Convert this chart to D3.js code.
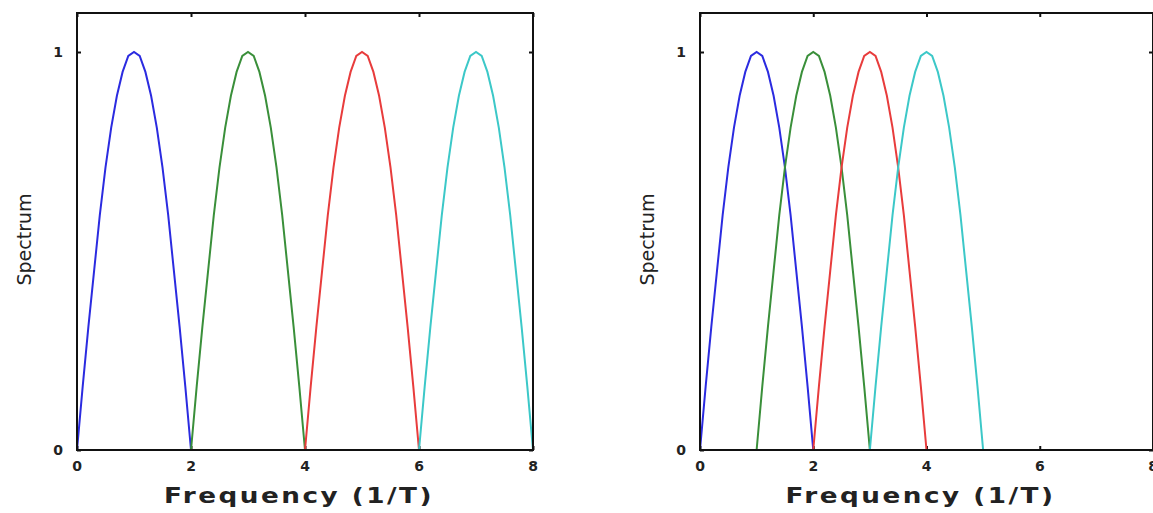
<!DOCTYPE html>
<html>
<head>
<meta charset="utf-8">
<script src="https://cdn.jsdelivr.net/npm/d3@7"></script>
<style>
  body { margin: 0; background: #fff; }
  svg text { font-family: 'DejaVu Sans', sans-serif; }
</style>
</head>
<body>
<svg id="main"></svg>
<script>
// one lobe of the spectrum, read across its width of 2 (1/T) in steps of 0.1
const lobeX = [0, 0.1, 0.2, 0.3, 0.4, 0.5, 0.6, 0.7, 0.8, 0.9, 1.0,
  1.1, 1.2, 1.3, 1.4, 1.5, 1.6, 1.7, 1.8, 1.9, 2.0];
const lobeY = [0, 0.16, 0.31, 0.45, 0.59, 0.71, 0.81, 0.89, 0.95, 0.99, 1.0,
  0.99, 0.95, 0.89, 0.81, 0.71, 0.59, 0.45, 0.31, 0.16, 0];
const colors = ['#2b2be0', '#3a8f3a', '#e83c3c', '#3cc8c8'];
const startsLeft = [0, 2, 4, 6];    // lobes side by side
const startsRight = [0, 1, 2, 3];   // overlapping lobes
const xTicks = [0, 2, 4, 6, 8];
const yTicks = [0, 1];

let width = 1153,
  height = 513;

svg = d3.select('#main')
  .attr('width', width)
  .attr('height', height);

drawPanel = (x0, x1, starts, name) => {
  let x = d3.scaleLinear()
    .domain([0, 8])
    .range([x0, x1]);

  let y = d3.scaleLinear()
    .domain([0, 1.098])
    .range([450, 13]);

  let g = svg.append('g').attr('class', name);

  // inward ticks on all four sides
  g.append('g')
    .call(d3.axisTop(x).tickValues(xTicks).tickSize(4).tickFormat(''))
    .attr('transform', `translate(0, ${y(0)})`);
  g.append('g')
    .call(d3.axisBottom(x).tickValues(xTicks).tickSize(4).tickFormat(''))
    .attr('transform', `translate(0, ${y.range()[1]})`);
  g.append('g')
    .call(d3.axisRight(y).tickValues(yTicks).tickSize(4).tickFormat(''))
    .attr('transform', `translate(${x(0)}, 0)`);
  g.append('g')
    .call(d3.axisLeft(y).tickValues(yTicks).tickSize(4).tickFormat(''))
    .attr('transform', `translate(${x(8)}, 0)`);
  g.selectAll('.domain').remove();
  g.selectAll('.tick line').attr('stroke', '#111').attr('stroke-width', 2);

  g.selectAll('.curve')
    .data(starts)
    .enter()
    .append('path')
    .attr('class', 'curve')
    .attr('fill', 'none')
    .attr('stroke', (d, i) => colors[i])
    .attr('stroke-width', 2)
    .attr('d', s => d3.line()
      .x((d, j) => x(s + lobeX[j]))
      .y(d => y(d))(lobeY));

  g.append('rect')
    .attr('x', x(0))
    .attr('y', y.range()[1])
    .attr('width', x(8) - x(0))
    .attr('height', y(0) - y.range()[1])
    .attr('fill', 'none')
    .attr('stroke', '#111')
    .attr('stroke-width', 2);

  g.selectAll('.xlab')
    .data(xTicks)
    .enter()
    .append('text')
    .attr('class', 'xlab')
    .text(d => d)
    .attr('x', d => x(d))
    .attr('y', 471)
    .attr('text-anchor', 'middle')
    .attr('font-size', '14px')
    .attr('font-weight', 'bold')
    .attr('fill', '#222');

  g.selectAll('.ylab')
    .data(yTicks)
    .enter()
    .append('text')
    .attr('class', 'ylab')
    .text(d => d)
    .attr('x', x(0) - 14)
    .attr('y', d => y(d) + 5)
    .attr('text-anchor', 'end')
    .attr('font-size', '14px')
    .attr('font-weight', 'bold')
    .attr('fill', '#222');

  g.append('text')
    .text('Frequency (1/T)')
    .attr('transform', `translate(${(x(0) + x(8)) / 2 - 6}, 503) scale(1.25, 1)`)
    .attr('text-anchor', 'middle')
    .attr('font-size', '21px')
    .attr('font-weight', 'bold')
    .attr('letter-spacing', '2px')
    .attr('fill', '#222');

  g.append('text')
    .text('Spectrum')
    .attr('transform', `translate(${x(0) - 46}, ${(y(0) + y.range()[1]) / 2 + 8}) rotate(-90)`)
    .attr('text-anchor', 'middle')
    .attr('font-size', '19px')
    .attr('fill', '#222');
};

drawPanel(77, 533, startsLeft, 'left');
drawPanel(700, 1153, startsRight, 'right');
</script>
</body>
</html>
